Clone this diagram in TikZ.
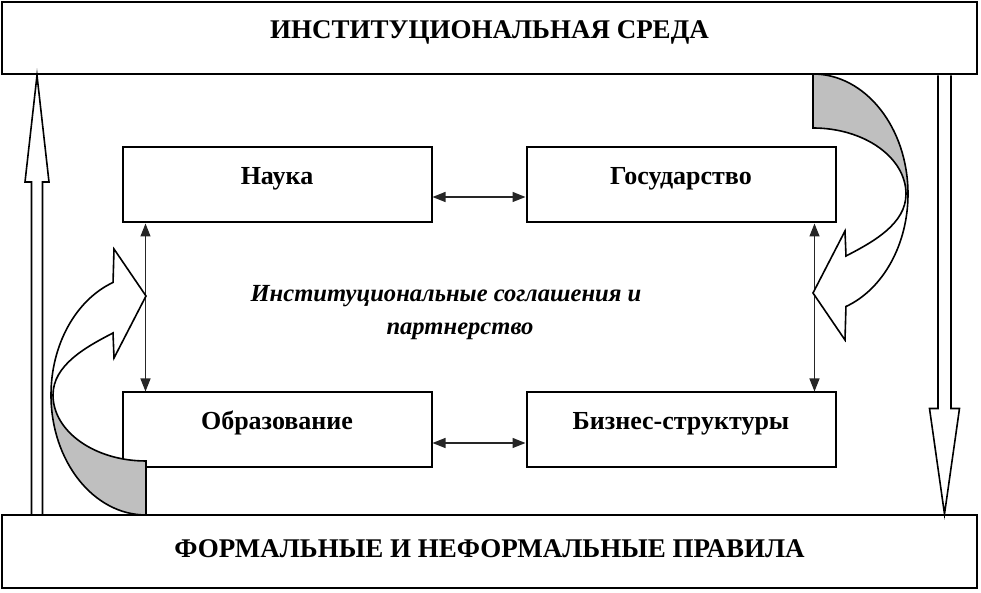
\documentclass[tikz,border=0pt]{standalone}
\usepackage{fontspec}
\setmainfont{Liberation Serif}
\usetikzlibrary{arrows.meta, calc, positioning}

\tikzset{
  banner/.style={draw, line width=1pt, minimum width=487.5pt, minimum height=36pt,
    font=\fontsize{13.5}{16}\selectfont\bfseries, text height=10pt, text depth=10pt},
  actor/.style={draw, line width=1pt, minimum width=154.5pt, minimum height=37.5pt,
    font=\fontsize{13}{16}\selectfont\bfseries, text height=9pt, text depth=9pt},
  link/.style={line width=0.7pt, black!85,
    {Triangle[length=6.5pt,width=5pt]}-{Triangle[length=6.5pt,width=5pt]}},
  hollow/.style={draw, line width=0.8pt, fill=white},
  backside/.style={draw, line width=0.8pt, fill=black!25},
  frontside/.style={draw, line width=0.8pt, fill=white}
}

% bent arrow: back band shaded, front band with head
\newcommand{\bendarrow}[2]{%
  \begin{scope}[shift={#1}, rotate=#2]
    \path[backside] (0,-120) arc[start angle=270, end angle=180, x radius=95, y radius=120]
      -- (-93,0) arc[start angle=180, end angle=270, x radius=93, y radius=66] -- cycle;
    \path[frontside] (-95,0) arc[start angle=180, end angle=110.3, x radius=95, y radius=120]
      -- (-32,146) -- (0,99) -- (-32,37) -- (-33,62)
      .. controls (-60,48) and (-93,30) .. (-93,0) -- cycle;
  \end{scope}}

\begin{document}
\begin{tikzpicture}[x=0.5pt, y=0.5pt]
\useasboundingbox (0,0) rectangle (981,593);

% Environment and rules
\node[banner] (env) at (489.5,554.5) {ИНСТИТУЦИОНАЛЬНАЯ СРЕДА};
\node[banner, minimum height=36.5pt, text height=12pt, text depth=6pt] (rules) at (489.5,41.5)
  {ФОРМАЛЬНЫЕ И НЕФОРМАЛЬНЫЕ ПРАВИЛА};

% Actors
\node[actor] (science) at (277,408) {Наука};
\node[actor] (state) at (681,408) {Государство};
\node[actor] (education) at (277,163) {Образование};
\node[actor] (business) at (681,163) {Бизнес-структуры};

% Centre text
\node[font=\fontsize{12.3}{16.5}\selectfont\bfseries\itshape, align=center] (pact) at (446,280)
  {Институциональные соглашения и\\\hspace*{14pt}партнерство};

% Links between actors
\draw[link] ($(science.east)+(0,-12)$) -- ($(state.west)+(0,-12)$);
\draw[link] ($(education.east)+(0,-13)$) -- ($(business.west)+(0,-13)$);
\draw[link] ($(science.south west)+(24,0)$) -- ($(education.north west)+(24,0)$);
\draw[link] ($(state.south east)+(-22,0)$) -- ($(business.north east)+(-22,0)$);

% Hollow arrows between environment and rules
\coordinate (lfoot) at ($(rules.north west)+(36,0)$);
\coordinate (ltip) at ($(env.south west)+(36,0)$);
\draw[hollow] ($(lfoot)+(-5.5,0)$) -- ($(lfoot)+(-5.5,332)$) -- ($(lfoot)+(-12,332)$)
  -- (ltip) -- ($(lfoot)+(12,332)$) -- ($(lfoot)+(5.5,332)$) -- ($(lfoot)+(5.5,0)$);
\coordinate (rtop) at ($(env.south east)+(-33.5,0)$);
\coordinate (rtip) at ($(rules.north east)+(-33.5,0)$);
\draw[hollow] ($(rtop)+(-6.5,0)$) -- ($(rtop)+(-6.5,-333)$) -- ($(rtop)+(-15,-333)$)
  -- (rtip) -- ($(rtop)+(15,-333)$) -- ($(rtop)+(6.5,-333)$) -- ($(rtop)+(6.5,0)$);

% Bent arrows
\bendarrow{(146,198)}{0}
\bendarrow{(813,399)}{180}
\end{tikzpicture}
\end{document}
